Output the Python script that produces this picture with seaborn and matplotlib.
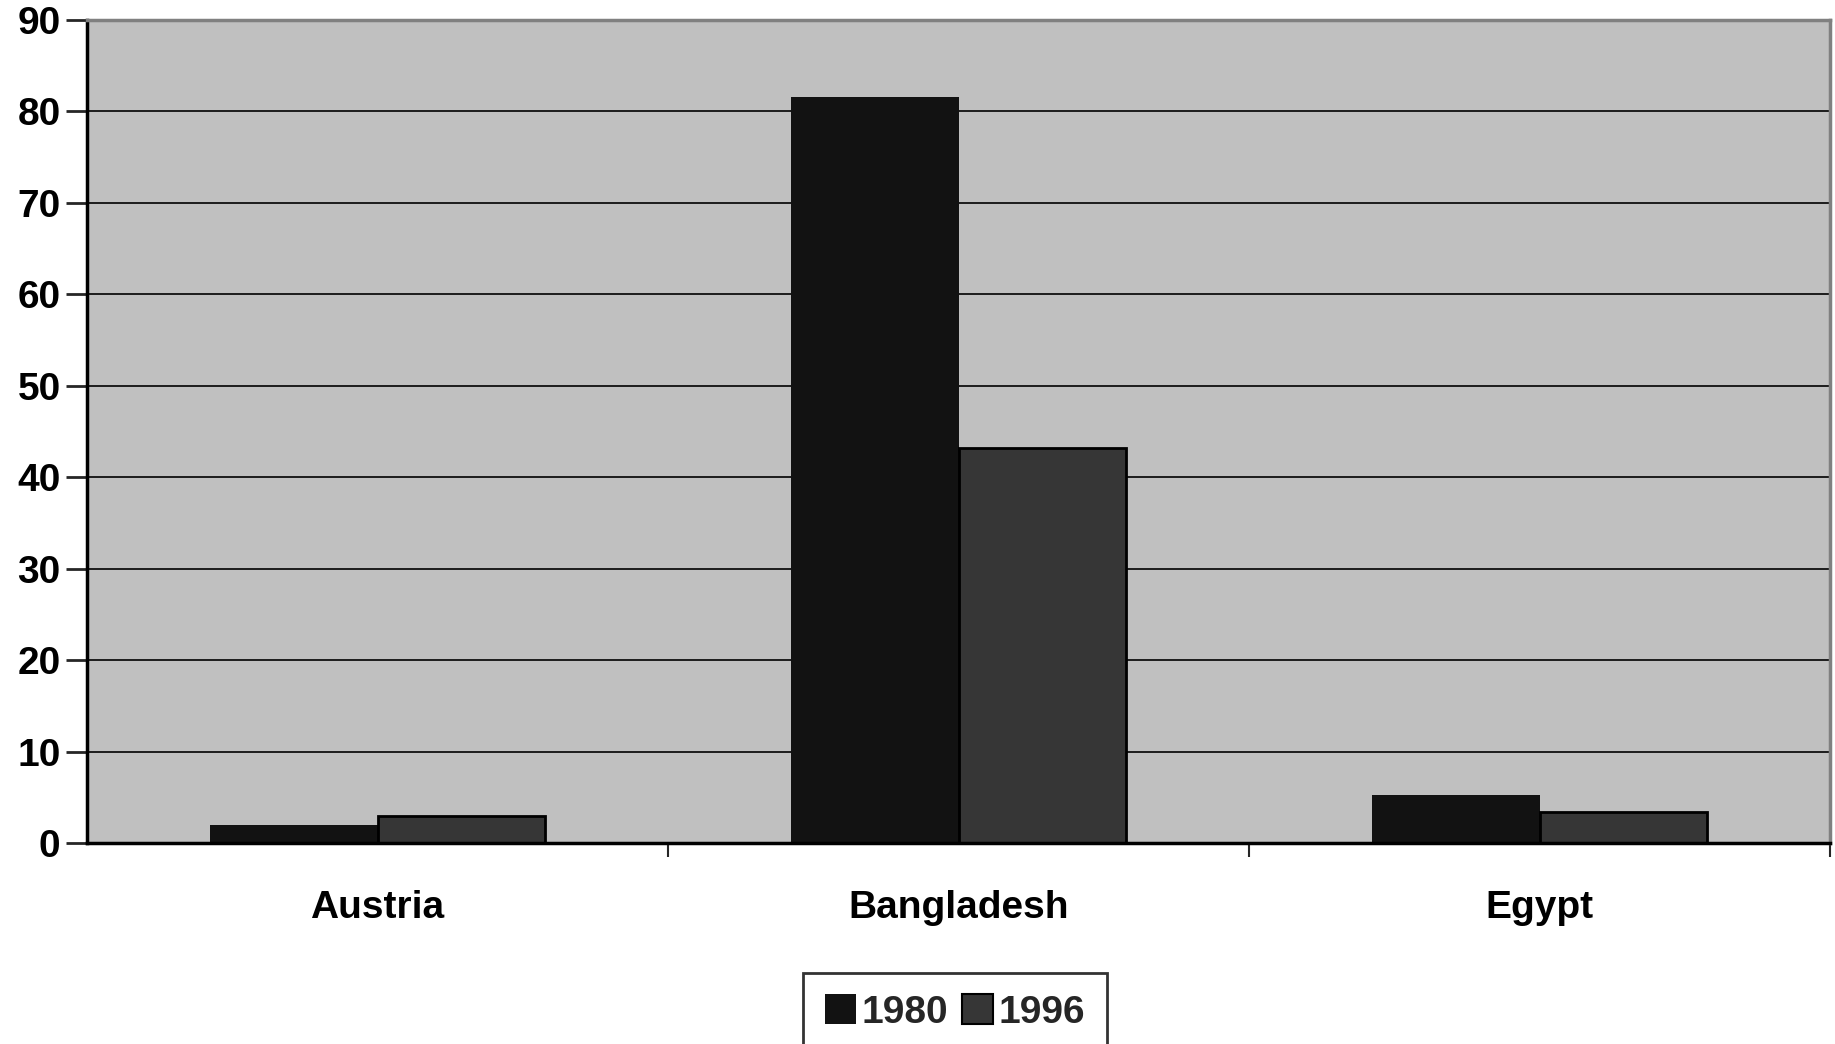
import numpy as np
import pandas as pd
import matplotlib.pyplot as plt
from matplotlib.patches import Patch
import seaborn as sns

# ==========================================
# DATA
# ==========================================
countries = ["Austria", "Bangladesh", "Egypt"]
years = ["1980", "1996"]
vals_1980 = [2.0, 81.6, 5.2]
vals_1996 = [3.0, 43.2, 3.4]

df = pd.DataFrame({
    "country": countries * 2,
    "year": [years[0]] * 3 + [years[1]] * 3,
    "value": vals_1980 + vals_1996,
})

bar_colors = {"1980": "#121212", "1996": "#363636"}

sns.set_style("white")
plt.rcParams['font.family'] = ['Liberation Sans', 'DejaVu Sans']
plt.rcParams['font.weight'] = 'bold'

fig = plt.figure(figsize=(18.35, 10.44), dpi=100)
ax = fig.add_axes([87 / 1835, 1 - 843 / 1044, 1743 / 1835, 823 / 1044])
ax.set_facecolor("#c0c0c0")

sns.barplot(data=df, x="country", y="value", hue="year", palette=bar_colors,
            width=0.575, gap=0, saturation=1, ax=ax, zorder=3, legend=False)

# 1980 bars without border, 1996 bars with black border
for patch in ax.containers[0]:
    patch.set_edgecolor("none")
for patch in ax.containers[1]:
    patch.set_edgecolor("black")
    patch.set_linewidth(2)

ax.set_ylim(0, 90)
ax.set_xlim(-0.5, 2.5)
ax.set_yticks(np.arange(0, 91, 10))
ax.yaxis.grid(True, color="black", linewidth=1.2, zorder=1)
ax.set_axisbelow(True)

ax.set_xlabel("")
ax.set_ylabel("")

# y ticks outward, x ticks at category boundaries
ax.tick_params(axis="y", direction="out", length=15, width=2, pad=4,
               labelsize=28, left=True, labelcolor="black")
ax.tick_params(axis="x", which="major", length=0, pad=34, labelsize=28,
               labelcolor="black")
ax.set_xticks([0.5, 1.5, 2.5], minor=True)
ax.tick_params(axis="x", which="minor", direction="out", length=10, width=1.5,
               bottom=True)
for lbl in ax.get_xticklabels() + ax.get_yticklabels():
    lbl.set_fontweight("bold")

for side in ["left", "bottom"]:
    ax.spines[side].set_color("black")
    ax.spines[side].set_linewidth(2.5)
for side in ["top", "right"]:
    ax.spines[side].set_color("#808080")
    ax.spines[side].set_linewidth(2.5)
ax.spines["bottom"].set_zorder(5)

# legend
handles = [Patch(facecolor=bar_colors["1980"], edgecolor="none"),
           Patch(facecolor=bar_colors["1996"], edgecolor="black", linewidth=1.5)]
leg = fig.legend(handles, years, loc="upper center", bbox_to_anchor=(955 / 1835, 1 - 973 / 1044),
                 ncol=2, frameon=True, fancybox=False, edgecolor="black",
                 prop={"size": 28, "weight": "bold"}, handlelength=0.8, handleheight=0.8,
                 handletextpad=0.15, columnspacing=0.35, borderpad=0.55, borderaxespad=0)
leg.get_frame().set_linewidth(2)

fig.savefig("out.png", dpi=100, facecolor="white")
